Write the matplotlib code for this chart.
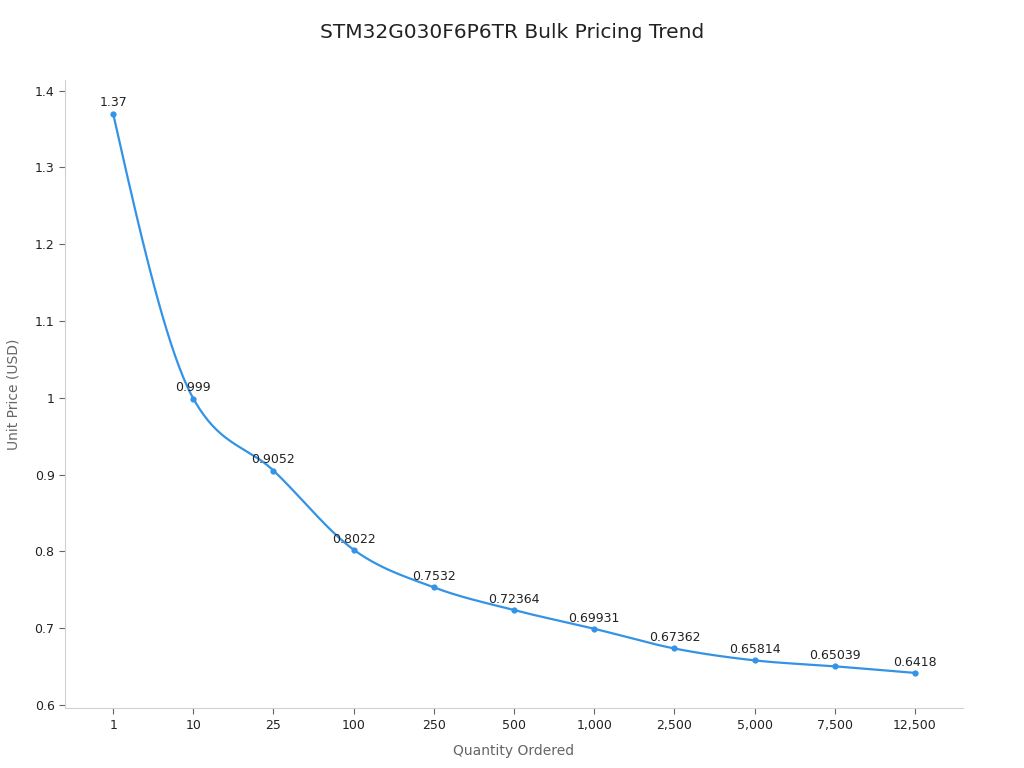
import numpy as np
from matplotlib import pyplot as plt
from matplotlib.ticker import FuncFormatter

quantities = ["1", "10", "25", "100", "250", "500", "1,000", "2,500", "5,000", "7,500", "12,500"]
prices = [1.37, 0.999, 0.9052, 0.8022, 0.7532, 0.72364, 0.69931, 0.67362, 0.65814, 0.65039, 0.6418]
price_labels = ["1.37", "0.999", "0.9052", "0.8022", "0.7532", "0.72364", "0.69931", "0.67362", "0.65814", "0.65039", "0.6418"]

line_color = "#3393e6"


# monotone cubic curve (like d3 curveMonotoneX) through the points
def monotone_curve(x, y, n=40):
    x = np.asarray(x, float)
    y = np.asarray(y, float)
    h = np.diff(x)
    s = np.diff(y) / h
    m = np.zeros(len(x))
    for i in range(1, len(x) - 1):
        if s[i - 1] * s[i] <= 0:
            m[i] = 0
        else:
            p = (s[i - 1] * h[i] + s[i] * h[i - 1]) / (h[i - 1] + h[i])
            m[i] = (np.sign(s[i - 1]) + np.sign(s[i])) * min(abs(s[i - 1]), abs(s[i]), 0.5 * abs(p))
    m[0] = (3 * s[0] - m[1]) / 2
    m[-1] = (3 * s[-1] - m[-2]) / 2
    xs, ys = [], []
    for i in range(len(x) - 1):
        t = np.linspace(0, 1, n)
        h00 = 2 * t**3 - 3 * t**2 + 1
        h10 = t**3 - 2 * t**2 + t
        h01 = -2 * t**3 + 3 * t**2
        h11 = t**3 - t**2
        xs.append(x[i] + t * h[i])
        ys.append(h00 * y[i] + h10 * h[i] * m[i] + h01 * y[i + 1] + h11 * h[i] * m[i + 1])
    return np.concatenate(xs), np.concatenate(ys)


xpos = np.arange(len(quantities))
cx, cy = monotone_curve(xpos, prices)

fig = plt.figure(figsize=(10.24, 7.68), dpi=100)
ax = fig.add_axes([0.0635, 0.078, 0.877, 0.818])

ax.plot(cx, cy, color=line_color, linewidth=1.6)
ax.scatter(xpos, prices, color=line_color, s=12, zorder=3)

for x, y, lab in zip(xpos, prices, price_labels):
    ax.annotate(lab, (x, y), xytext=(0, 3), textcoords="offset points",
                ha="center", va="bottom", fontsize=9, color="#222222")

ax.set_xlim(-0.6, len(quantities) - 0.4)
ax.set_ylim(0.596, 1.414)
ax.set_xticks(xpos)
ax.set_xticklabels(quantities)
ax.set_yticks([0.6, 0.7, 0.8, 0.9, 1.0, 1.1, 1.2, 1.3, 1.4])
ax.yaxis.set_major_formatter(FuncFormatter(lambda v, p: f"{v:g}"))

for side in ["top", "right"]:
    ax.spines[side].set_visible(False)
for side in ["left", "bottom"]:
    ax.spines[side].set_color("#d0d0d0")
ax.tick_params(axis="both", colors="#666666", labelcolor="#222222", labelsize=9, length=4)

ax.set_xlabel("Quantity Ordered", fontsize=10, color="#666666", labelpad=9)
ax.set_ylabel("Unit Price (USD)", fontsize=10, color="#666666", labelpad=10)
fig.suptitle("STM32G030F6P6TR Bulk Pricing Trend", fontsize=14.5, color="#222222", y=0.97)

fig.savefig("out.png", dpi=100)
